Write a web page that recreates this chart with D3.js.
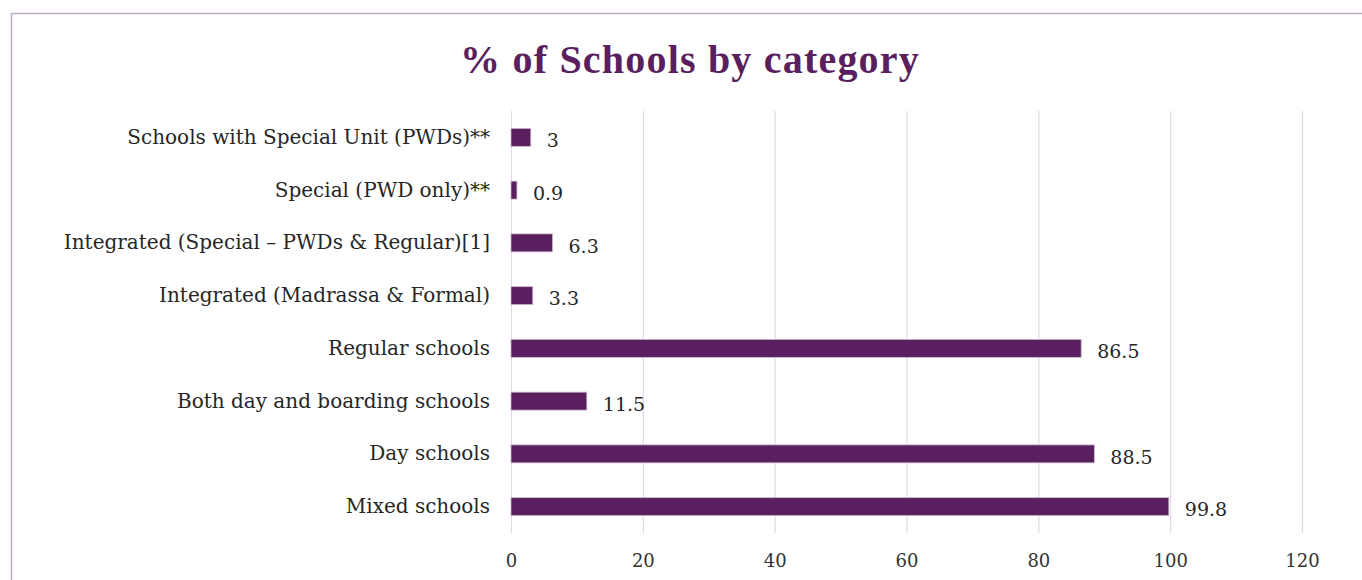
<!DOCTYPE html>
<html>
<head>
<meta charset="utf-8">
<script src="https://cdn.jsdelivr.net/npm/d3@7"></script>
<style>
  html, body { margin: 0; padding: 0; background: #fff; }
  svg { display: block; }
</style>
</head>
<body>
<script>
const categories = [
  "Schools with Special Unit (PWDs)**",
  "Special (PWD only)**",
  "Integrated (Special \u2013 PWDs & Regular)[1]",
  "Integrated (Madrassa & Formal)",
  "Regular schools",
  "Both day and boarding schools",
  "Day schools",
  "Mixed schools"
];
const values = [3, 0.9, 6.3, 3.3, 86.5, 11.5, 88.5, 99.8];
const tickValues = [0, 20, 40, 60, 80, 100, 120];
const title = "% of Schools by category";

const W = 1362, H = 580;
const margin = { left: 511, right: W - 1302, top: 111, bottom: H - 533 };
const purple = "#5a1f5e";
const serif = "'DejaVu Serif', 'Liberation Serif', serif";
const titleSerif = "'Liberation Serif', 'DejaVu Serif', serif";

const svg = d3.select("body").append("svg").attr("width", W).attr("height", H);

// frame
svg.append("line").attr("x1", 11.5).attr("x2", W).attr("y1", 13.5).attr("y2", 13.5)
  .attr("stroke", "#bcadc2").attr("stroke-width", 1.5);
svg.append("line").attr("x1", 11.5).attr("x2", 11.5).attr("y1", 13).attr("y2", H)
  .attr("stroke", "#bcadc2").attr("stroke-width", 1.5);

svg.append("text").attr("x", 690).attr("y", 73).attr("text-anchor", "middle")
  .attr("font-family", titleSerif).attr("font-weight", "bold").attr("font-size", 40)
  .attr("letter-spacing", 1.2)
  .attr("fill", purple).text(title);

const x = d3.scaleLinear().domain([0, 120]).range([margin.left, W - margin.right]);
const y = d3.scaleBand().domain(categories).range([margin.top, H - margin.bottom]).paddingInner(0.66).paddingOuter(0.33);

// gridlines
svg.append("g").selectAll("line").data(tickValues).join("line")
  .attr("x1", d => x(d) + 0.5).attr("x2", d => x(d) + 0.5)
  .attr("y1", margin.top).attr("y2", H - margin.bottom)
  .attr("stroke", "#e2d9e6").attr("stroke-width", 1.2);

// x axis labels
const xAxis = d3.axisBottom(x).tickValues(tickValues).tickSize(0).tickPadding(0);
const gx = svg.append("g").attr("transform", `translate(0,${H - margin.bottom + 21})`).call(xAxis);
gx.select(".domain").remove();
gx.selectAll("text").attr("font-family", serif).attr("font-size", 18).attr("fill", "#333").attr("dy", "0.71em");

// y axis labels
const yAxis = d3.axisLeft(y).tickSize(0).tickPadding(21);
const gy = svg.append("g").attr("transform", `translate(${margin.left},0)`).call(yAxis);
gy.select(".domain").remove();
gy.selectAll("text").attr("font-family", serif).attr("font-size", 20).attr("fill", "#262626");

// bars
svg.append("g").selectAll("rect").data(values).join("rect")
  .attr("x", x(0)).attr("y", (d, i) => y(categories[i]))
  .attr("width", d => x(d) - x(0)).attr("height", y.bandwidth())
  .attr("fill", purple).attr("stroke", "#c9b6cd").attr("stroke-width", 0.8);

// value labels
svg.append("g").selectAll("text").data(values).join("text")
  .attr("x", d => x(d) + 16).attr("y", (d, i) => y(categories[i]) + y.bandwidth() / 2 + 3)
  .attr("dy", "0.35em")
  .attr("font-family", serif).attr("font-size", 19).attr("fill", "#262626")
  .text(d => d);
</script>
</body>
</html>
